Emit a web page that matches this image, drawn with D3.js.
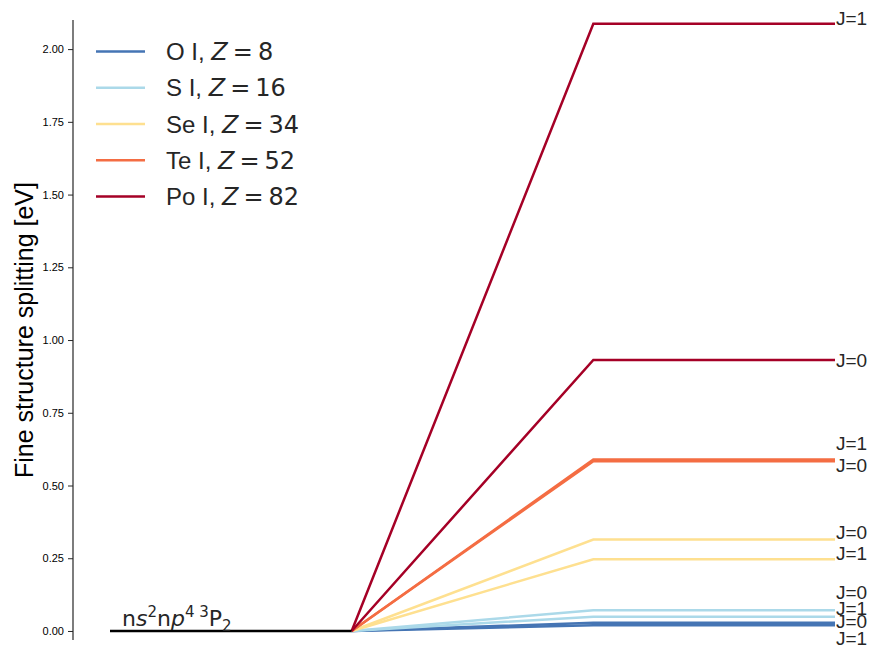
<!DOCTYPE html>
<html>
<head>
<meta charset="utf-8">
<script src="https://cdn.jsdelivr.net/npm/d3@7"></script>
<style>
  html, body { margin: 0; padding: 0; background: #fff; }
  svg { display: block; }
</style>
</head>
<body>
<svg id="chart" width="871" height="646"></svg>
<script>
// Fine-structure splitting of the ns2np4 3P ground term (J=2 reference level)
const elements = ["O I", "S I", "Se I", "Te I", "Po I"];
const atomicNumbers = [8, 16, 34, 52, 82];
const levelJ1 = [0.01962, 0.04911, 0.24667, 0.58901, 2.08689];   // eV
const levelJ0 = [0.02814, 0.07112, 0.31422, 0.58353, 0.93171];   // eV
const colors = ["#4575b4", "#abd9e9", "#fee090", "#f46d43", "#a50026"];
const yTicks = [0, 0.25, 0.5, 0.75, 1.0, 1.25, 1.5, 1.75, 2.0];

const svg = d3.select("#chart");
const textColor = "#262626";
const sans = "Liberation Sans, Arial, sans-serif";
const mathFont = "DejaVu Sans, sans-serif";

// Level diagram columns: ground level (0..1), transition (1..2), excited levels (2..3)
const x = d3.scaleLinear().domain([0, 3]).range([110, 835]);
const y = d3.scaleLinear().domain([-0.031, 2.1]).range([640, 20]);

// Left axis
const axis = d3.axisLeft(y).tickValues(yTicks).tickFormat(d3.format(".2f")).tickSize(5).tickPadding(4);
const gAxis = svg.append("g").attr("transform", "translate(73,0)").call(axis);
gAxis.select(".domain").attr("stroke", textColor).attr("stroke-width", 1.2).attr("d", `M0,${y.range()[0]}V${y.range()[1]}`);
gAxis.selectAll(".tick line").attr("stroke", textColor).attr("stroke-width", 1);
gAxis.selectAll(".tick text").attr("fill", "#000").attr("font-family", sans).attr("font-size", 11);

svg.append("text")
  .attr("transform", `translate(33,${(y.range()[0] + y.range()[1]) / 2}) rotate(-90)`)
  .attr("text-anchor", "middle")
  .attr("font-family", sans)
  .attr("font-size", 25)
  .attr("fill", "#000")
  .text("Fine structure splitting [eV]");

const line = d3.line().x(d => x(d[0])).y(d => y(d[1]));

// Excited levels: rise from the ground level, then flat
const plot = svg.append("g");
elements.forEach((el, i) => {
  [levelJ1[i], levelJ0[i]].forEach(v => {
    plot.append("path")
      .attr("d", line([[1, 0], [2, v], [3, v]]))
      .attr("fill", "none")
      .attr("stroke", colors[i])
      .attr("stroke-width", 2.5);
  });
});

// Ground level
plot.append("path")
  .attr("d", line([[0, 0], [1, 0]]))
  .attr("stroke", "#000")
  .attr("stroke-width", 2.5);

const gl = svg.append("text")
  .attr("x", 122).attr("y", 626)
  .attr("font-family", mathFont)
  .attr("font-size", 22)
  .attr("fill", textColor);
gl.append("tspan").text("n");
gl.append("tspan").attr("font-style", "italic").text("s");
gl.append("tspan").attr("font-size", 15).attr("dy", -9).text("2");
gl.append("tspan").attr("dy", 9).text("n");
gl.append("tspan").attr("font-style", "italic").text("p");
gl.append("tspan").attr("font-size", 15).attr("dy", -9).text("4");
gl.append("tspan").attr("font-size", 15).text(" 3");
gl.append("tspan").attr("dy", 9).text("P");
gl.append("tspan").attr("font-size", 15).attr("dy", 5).text("2");

// J labels at the right end of each level, nudged apart where levels crowd
const labelNudge = {J0: [-2, -18, -7, 4, 0], J1: [13, -9, -6, -16, -6]};
elements.forEach((el, i) => {
  [["J=0", levelJ0[i], labelNudge.J0[i]], ["J=1", levelJ1[i], labelNudge.J1[i]]].forEach(([t, v, dy]) => {
    svg.append("text")
      .attr("x", x(3) + 1)
      .attr("y", y(v) + dy)
      .attr("dy", "0.36em")
      .attr("font-family", sans)
      .attr("font-size", 19)
      .attr("fill", textColor)
      .text(t);
  });
});

// Legend
const legend = svg.append("g");
elements.forEach((el, i) => {
  const ly = 51.5 + i * 36.25;
  legend.append("line")
    .attr("x1", 96).attr("x2", 145).attr("y1", ly).attr("y2", ly)
    .attr("stroke", colors[i]).attr("stroke-width", 2.5);
  const t = legend.append("text")
    .attr("x", 166).attr("y", ly).attr("dy", "0.36em")
    .attr("font-family", sans)
    .attr("font-size", 24)
    .attr("fill", textColor);
  t.append("tspan").text(`${el}, `);
  t.append("tspan").attr("font-family", mathFont).attr("font-style", "italic").text("Z");
  t.append("tspan").attr("font-family", mathFont).attr("dx", 5).text("=");
  t.append("tspan").attr("font-family", mathFont).attr("dx", 5).text(String(atomicNumbers[i]));
});
</script>
</body>
</html>
